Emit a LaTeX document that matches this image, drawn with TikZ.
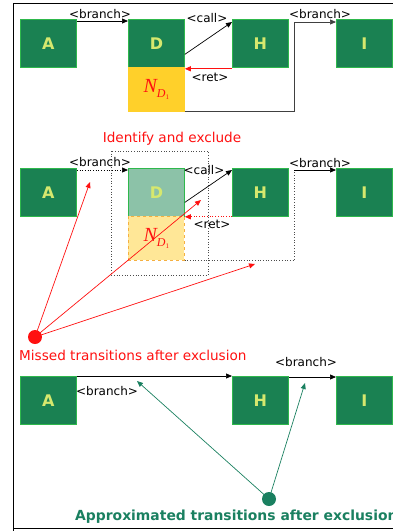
\documentclass[tikz,border=0pt]{standalone}
\usepackage{fontspec}
\setmainfont{DejaVu Sans}
\newfontfamily\nfont{Liberation Serif}
\usetikzlibrary{arrows.meta}
\definecolor{boxgreen}{HTML}{1A8152}
\definecolor{boxedge}{HTML}{2EB84C}
\definecolor{lettercol}{HTML}{D6E86E}
\definecolor{nyellow}{HTML}{FFD02A}
\definecolor{fadegreen}{HTML}{8CC2A8}
\definecolor{fadeyellow}{HTML}{FFE797}
\definecolor{fadeedge}{HTML}{F5B041}
\definecolor{tealgreen}{HTML}{1A8060}
\definecolor{redcol}{HTML}{FF1010}
% node name N with nested subscript D_1
\newcommand{\ndone}{{\nfont\itshape\fontsize{20}{20}\selectfont N\raisebox{-5pt}{\fontsize{12}{12}\selectfont D\raisebox{-2.5pt}{\fontsize{7}{7}\selectfont\upshape 1}}}}
\tikzset{
  blk/.style={draw=boxedge, fill=boxgreen, line width=0.8pt, anchor=north west,
    minimum width=56pt, minimum height=48pt, inner sep=0pt,
    font=\fontsize{16}{16}\selectfont\bfseries, text=lettercol},
  fadeblk/.style={blk, fill=fadegreen},
  nbox/.style={draw=nyellow, fill=nyellow, anchor=north west, line width=0.6pt,
    minimum width=56pt, minimum height=44pt, inner sep=0pt, text=redcol},
  fadenbox/.style={nbox, fill=fadeyellow, draw=fadeedge, dashed},
  lbl/.style={font=\fontsize{12}{12}\selectfont, inner sep=0pt},
  captxt/.style={font=\fontsize{13.6}{13.6}\selectfont, inner sep=0pt, anchor=west},
  arr/.style={-{Triangle[length=6pt,width=5pt]}, line width=0.7pt},
  dotline/.style={dotted, line width=0.7pt, draw=black!70},
}
\begin{document}
\begin{tikzpicture}[x=1pt, y=-1pt]
\useasboundingbox (0,0) rectangle (392,531);
% frame
\draw[line width=0.9pt] (13,531) -- (13,3) -- (395,3);
\draw[line width=0.9pt] (13,528) -- (395,528);

% ---- first row: original control flow ----
\node[blk] (A1) at (20,19) {A};
\node[blk] (D1) at (128,19) {D};
\node[blk] (H1) at (232,19) {H};
\node[blk] (I1) at (336,19) {I};
\node[nbox] (N1) at (128,67) {\ndone};
\coordinate (c1) at (294,22);
\draw[arr] ([yshift=-2pt]A1.north east) -- ([yshift=-2pt]D1.north west);
\draw[arr] ([yshift=-11pt]D1.east) -- ([yshift=-3pt]H1.north west);
\draw[arr, redcol] ([yshift=-1pt]H1.south west) -- ([yshift=-1pt]D1.south east);
\draw[arr, black!75] (N1.south east) -| (c1) -- ([yshift=-3pt]I1.north west);
\node[lbl] (b1) at (100,14) {<branch>};
\node[lbl] (k1) at (207,18) {<call>};
\node[lbl] (r1) at (210,77) {<ret>};
\node[lbl] (b2) at (320,14) {<branch>};

% ---- second row: excluded node ----
\node[blk] (A2) at (20,168) {A};
\node[fadeblk] (D2) at (128,168) {D};
\node[blk] (H2) at (232,168) {H};
\node[blk] (I2) at (336,168) {I};
\node[fadenbox] (N2) at (128,216) {\ndone};
\draw[dotline] (111,151) rectangle (208,275);
\node[font=\fontsize{13.6}{13.6}\selectfont, text=redcol, inner sep=0pt] (idx) at (172,139) {Identify and exclude};
\coordinate (c2) at (294,170);
\draw[arr, dotted] ([yshift=-2pt]A2.north east) -- ([yshift=-2pt]D2.north west);
\draw[arr] ([yshift=-10pt]D2.east) -- ([yshift=-2pt]H2.north west);
\draw[arr, redcol, dotted] (H2.south west) -- (D2.south east);
\draw[dotline] (N2.south east) -| (c2);
\draw[arr] (c2) -- ([yshift=-2pt]I2.north west);
\node[lbl] (b3) at (100,162) {<branch>};
\node[lbl] (k2) at (204,170) {<call>};
\node[lbl] (r2) at (212,224) {<ret>};
\node[lbl] (b4) at (320,163) {<branch>};

% missed transitions
\node[circle, fill=redcol, minimum size=14pt, inner sep=0pt] (md) at (35,337) {};
\coordinate (m1) at (90,182);
\coordinate (m2) at (201,200);
\coordinate (m3) at (255,264);
\draw[arr, redcol] (md.center) -- (m1);
\draw[arr, redcol] (md.center) -- (m2);
\draw[arr, redcol] (md.center) -- (m3);
\node[captxt, text=redcol] (mt) at (19,355) {Missed transitions after exclusion};

% ---- third row: approximated flow ----
\node[blk] (A3) at (20,376) {A};
\node[blk] (H3) at (232,376) {H};
\node[blk] (I3) at (336,376) {I};
\draw[arr] (A3.north east) -- (H3.north west);
\draw[arr] ([yshift=-1pt]H3.north east) -- ([yshift=-1pt]I3.north west);
\node[lbl] (b5) at (107,391) {<branch>};
\node[lbl] (b6) at (306,362) {<branch>};

% approximated transitions
\node[circle, fill=tealgreen, minimum size=14pt, inner sep=0pt] (gd) at (269,499) {};
\coordinate (g1) at (137,381);
\coordinate (g2) at (305,383);
\draw[arr, tealgreen] (gd.center) -- (g1);
\draw[arr, tealgreen] (gd.center) -- (g2);
\node[captxt, text=tealgreen, font=\fontsize{13.9}{13.9}\selectfont\bfseries] (at) at (75,517) {Approximated transitions after exclusion};
\end{tikzpicture}
\end{document}
